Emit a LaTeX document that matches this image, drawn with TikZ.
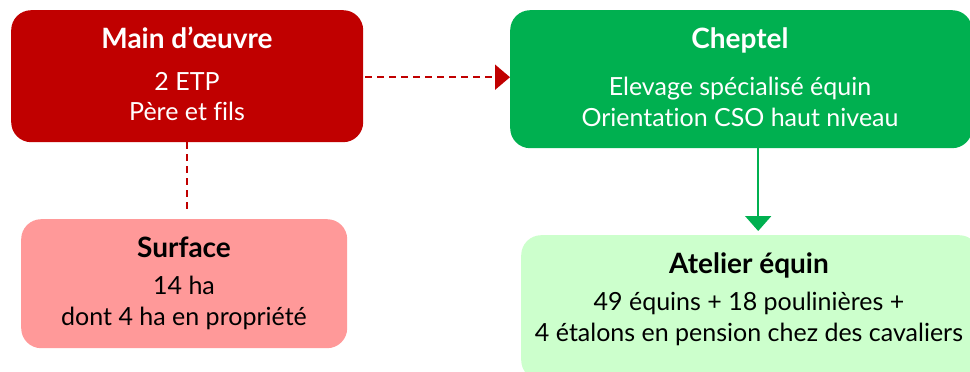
\documentclass[tikz,border=0pt]{standalone}
\usepackage{fontspec}
\setmainfont{Lato}[Ligatures=NoCommon]
\usetikzlibrary{arrows.meta}
\definecolor{darkred}{HTML}{C00000}
\definecolor{pinkbox}{HTML}{FF9999}
\definecolor{greenbox}{HTML}{00B050}
\definecolor{lightgreen}{HTML}{CCFFCC}
\tikzset{
  box/.style={rounded corners=20pt, inner sep=0pt, anchor=north west},
  txt/.style={anchor=base, inner sep=0pt, font=\fontsize{25}{30}\selectfont},
  ttl/.style={anchor=base, inner sep=0pt, font=\fontsize{28}{32}\selectfont\bfseries},
  reddash/.style={draw=darkred, line width=2pt, dash pattern=on 7pt off 5pt},
}
\begin{document}
\begin{tikzpicture}[x=1pt,y=-1pt]
\useasboundingbox (0,0) rectangle (970,372);
\begin{scope}
\clip (0,0) rectangle (970,372);
\node[box, fill=darkred, minimum width=352pt, minimum height=132pt] (main) at (11,10) {};
\node[box, fill=pinkbox, minimum width=326pt, minimum height=129pt] (surf) at (21,219) {};
\node[box, fill=greenbox, minimum width=462pt, minimum height=138pt] (chep) at (510,10) {};
\node[box, fill=lightgreen, minimum width=458pt, minimum height=145pt] (atel) at (521,235) {};
\end{scope}
% texts
\node[ttl, text=white] (t1) at (187,48) {Main d’œuvre};
\node[txt, text=white] (t2) at (187,90) {2 ETP};
\node[txt, text=white] (t3) at (187,120) {Père et fils};
\node[ttl, text=black] (s1) at (184,257) {Surface};
\node[txt, text=black] (s2) at (184,294) {14 ha};
\node[txt, text=black] (s3) at (184,325) {dont 4 ha en propriété};
\node[ttl, text=white] (c1) at (740,48) {Cheptel};
\node[txt, text=white] (c2) at (740,95) {Elevage spécialisé équin};
\node[txt, text=white] (c3) at (740,126) {Orientation CSO haut niveau};
\node[ttl, text=black] (a1) at (749,273) {Atelier équin};
\node[txt, text=black] (a2) at (749,310) {49 équins + 18 poulinières +};
\node[txt, text=black] (a3) at (749,341) {4 étalons en pension chez des cavaliers};
% connectors
\draw[reddash, -{Triangle[length=15pt,width=25pt]}, shorten <=2pt] ([yshift=-1pt]main.east) -- ([yshift=-1pt]main.east -| chep.west);
\draw[reddash, shorten >=5pt] (main.south) -- (main.south |- surf.north);
\draw[greenbox, line width=2pt, -{Triangle[length=15pt,width=26pt]}, shorten >=4pt] ([xshift=17pt]chep.south) -- ([xshift=17pt]chep.south |- atel.north);
\end{tikzpicture}
\end{document}
